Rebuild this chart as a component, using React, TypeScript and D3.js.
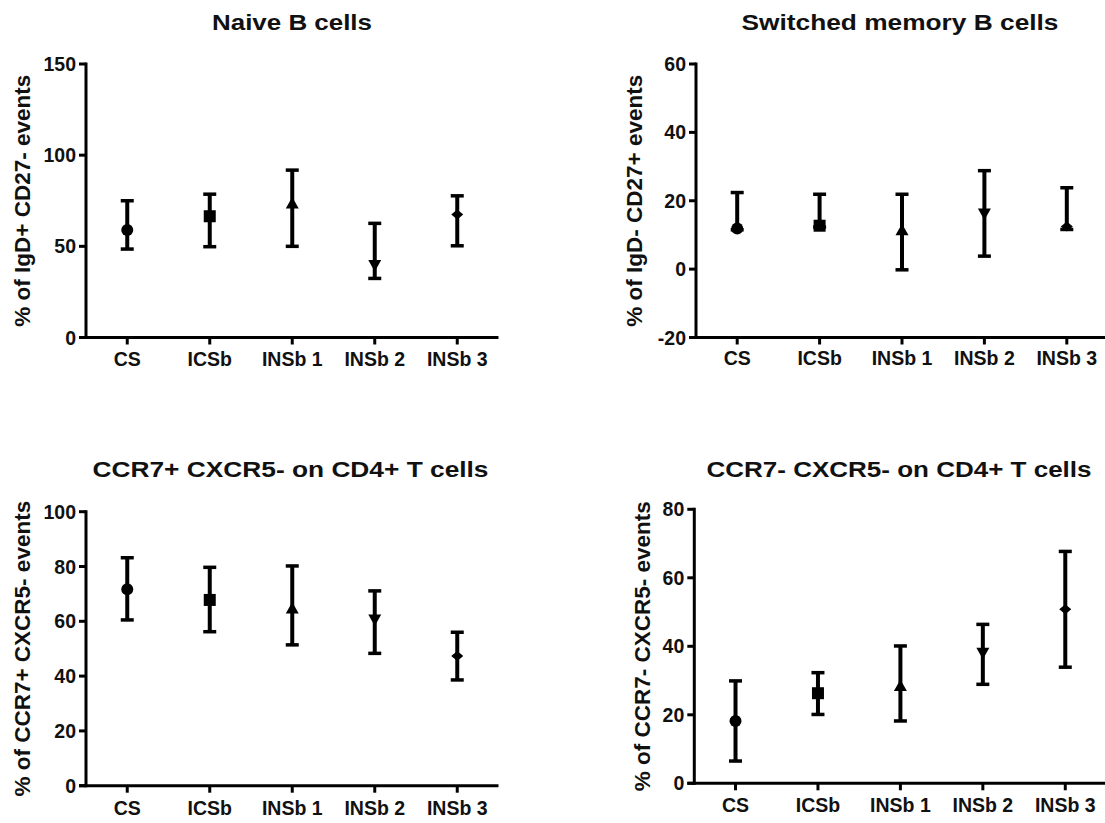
import React from "react";
import * as d3 from "d3";

const categories = ["CS", "ICSb", "INSb 1", "INSb 2", "INSb 3"];
const markerShapes = ["circle", "square", "triangleUp", "triangleDown", "diamond"];

const titles = [
  "Naive B cells",
  "Switched memory B cells",
  "CCR7+ CXCR5- on CD4+ T cells",
  "CCR7- CXCR5- on CD4+ T cells",
];
const yLabels = [
  "% of IgD+ CD27- events",
  "% of IgD- CD27+ events",
  "% of CCR7+ CXCR5- events",
  "% of CCR7- CXCR5- events",
];

// Panel 1: Naive B cells
const naiveMean = [59, 66.5, 73.5, 39.7, 67.5];
const naiveUpper = [75, 78.6, 91.8, 62.6, 77.7];
const naiveLower = [48.5, 49.8, 50, 32.4, 50.3];
const naiveTicks = [0, 50, 100, 150];

// Panel 2: Switched memory B cells
const switchedMean = [11.9, 12.7, 11.4, 16.3, 12.5];
const switchedUpper = [22.4, 21.9, 21.9, 28.8, 23.8];
const switchedLower = [11.5, 12.3, -0.2, 3.8, 11.6];
const switchedTicks = [-20, 0, 20, 40, 60];

// Panel 3: CCR7+ CXCR5-
const ccr7posMean = [71.7, 67.8, 64.7, 60.7, 47.3];
const ccr7posUpper = [83.2, 79.7, 80.2, 71.1, 56];
const ccr7posLower = [60.5, 56.2, 51.4, 48.3, 38.6];
const ccr7posTicks = [0, 20, 40, 60, 80, 100];

// Panel 4: CCR7- CXCR5-
const ccr7negMean = [18.2, 26.3, 28.4, 38.1, 50.8];
const ccr7negUpper = [29.9, 32.3, 40.1, 46.4, 67.7];
const ccr7negLower = [6.5, 20.1, 18.2, 28.9, 33.9];
const ccr7negTicks = [0, 20, 40, 60, 80];

const FONT = "'Liberation Sans', Arial, sans-serif";

type PanelLayout = {
  axisX: number;
  xEnd: number;
  yTop: number;
  yBottom: number;
  titleX: number;
  titleY: number;
  titleLen: number;
  labelX: number;
  catY: number;
};

const layouts: PanelLayout[] = [
  { axisX: 86, xEnd: 498.5, yTop: 64, yBottom: 337.5, titleX: 292, titleY: 30, titleLen: 160, labelX: 30, catY: 366 },
  { axisX: 696, xEnd: 1108, yTop: 64, yBottom: 337.5, titleX: 900, titleY: 30, titleLen: 317, labelX: 642, catY: 365 },
  { axisX: 86, xEnd: 498.5, yTop: 511.7, yBottom: 785.7, titleX: 290.5, titleY: 477, titleLen: 396, labelX: 30, catY: 815 },
  { axisX: 694.3, xEnd: 1106.5, yTop: 509.3, yBottom: 783.3, titleX: 899, titleY: 477, titleLen: 385, labelX: 650, catY: 812 },
];

const panelData = [
  { mean: naiveMean, upper: naiveUpper, lower: naiveLower, ticks: naiveTicks },
  { mean: switchedMean, upper: switchedUpper, lower: switchedLower, ticks: switchedTicks },
  { mean: ccr7posMean, upper: ccr7posUpper, lower: ccr7posLower, ticks: ccr7posTicks },
  { mean: ccr7negMean, upper: ccr7negUpper, lower: ccr7negLower, ticks: ccr7negTicks },
];

function Marker({ shape, x, y }: { shape: string; x: number; y: number }) {
  if (shape === "circle") return <circle cx={x} cy={y} r={6} fill="#000" />;
  if (shape === "square") return <rect x={x - 6} y={y - 6} width={12} height={12} fill="#000" />;
  if (shape === "triangleUp")
    return <path d={`M${x},${y - 6.5} L${x + 6.5},${y + 5} L${x - 6.5},${y + 5} Z`} fill="#000" />;
  if (shape === "triangleDown")
    return <path d={`M${x},${y + 6.5} L${x + 6.5},${y - 5} L${x - 6.5},${y - 5} Z`} fill="#000" />;
  return <path d={`M${x},${y - 5} L${x + 6},${y} L${x},${y + 5} L${x - 6},${y} Z`} fill="#000" />;
}

function Panel({ idx }: { idx: number }) {
  const L = layouts[idx];
  const D = panelData[idx];
  const ticks = D.ticks;
  const y = d3
    .scaleLinear()
    .domain([ticks[0], ticks[ticks.length - 1]])
    .range([L.yBottom, L.yTop]);
  const x = d3.scalePoint<string>().domain(categories).range([L.axisX, L.xEnd]).padding(0.5);
  const tickLen = 7;
  const capHalf = 6.5;
  return (
    <g>
      <text
        x={L.titleX}
        y={L.titleY}
        textAnchor="middle"
        fontFamily={FONT}
        fontWeight="bold"
        fontSize={22}
        textLength={L.titleLen}
        lengthAdjust="spacingAndGlyphs"
        fill="#111"
      >
        {titles[idx]}
      </text>
      <text
        transform={`translate(${L.labelX},${(L.yTop + L.yBottom) / 2}) rotate(-90)`}
        textAnchor="middle"
        fontFamily={FONT}
        fontWeight="bold"
        fontSize={22.5}
        fill="#111"
      >
        {yLabels[idx]}
      </text>
      {/* y axis */}
      <line x1={L.axisX} x2={L.axisX} y1={L.yTop - 1.5} y2={L.yBottom + 1.5} stroke="#000" strokeWidth={3} />
      {ticks.map((t) => (
        <g key={t}>
          <line x1={L.axisX - tickLen} x2={L.axisX} y1={y(t)} y2={y(t)} stroke="#000" strokeWidth={3} />
          <text
            x={L.axisX - 10}
            y={y(t)}
            dy="0.36em"
            textAnchor="end"
            fontFamily={FONT}
            fontWeight="bold"
            fontSize={19.5}
            fill="#111"
          >
            {t}
          </text>
        </g>
      ))}
      {/* x axis */}
      <line x1={L.axisX - tickLen} x2={L.xEnd} y1={L.yBottom} y2={L.yBottom} stroke="#000" strokeWidth={3} />
      {categories.map((c) => (
        <g key={c}>
          <line x1={x(c)!} x2={x(c)!} y1={L.yBottom} y2={L.yBottom + tickLen} stroke="#000" strokeWidth={3} />
          <text
            x={x(c)!}
            y={L.catY}
            textAnchor="middle"
            fontFamily={FONT}
            fontWeight="bold"
            fontSize={19.5}
            fill="#111"
          >
            {c}
          </text>
        </g>
      ))}
      {/* error bars and markers */}
      {categories.map((c, i) => {
        const cx = x(c)!;
        return (
          <g key={"e" + c}>
            <line x1={cx} x2={cx} y1={y(D.upper[i])} y2={y(D.lower[i])} stroke="#000" strokeWidth={4} />
            <line x1={cx - capHalf} x2={cx + capHalf} y1={y(D.upper[i])} y2={y(D.upper[i])} stroke="#000" strokeWidth={3.5} />
            <line x1={cx - capHalf} x2={cx + capHalf} y1={y(D.lower[i])} y2={y(D.lower[i])} stroke="#000" strokeWidth={3.5} />
            <Marker shape={markerShapes[i]} x={cx} y={y(D.mean[i])} />
          </g>
        );
      })}
    </g>
  );
}

export default function App() {
  return (
    <svg
      width={1105}
      height={823}
      style={{ position: "absolute", left: 0, top: 0, background: "#fff" }}
    >
      <rect width={1105} height={823} fill="#fff" />
      {[0, 1, 2, 3].map((i) => (
        <Panel key={i} idx={i} />
      ))}
    </svg>
  );
}
